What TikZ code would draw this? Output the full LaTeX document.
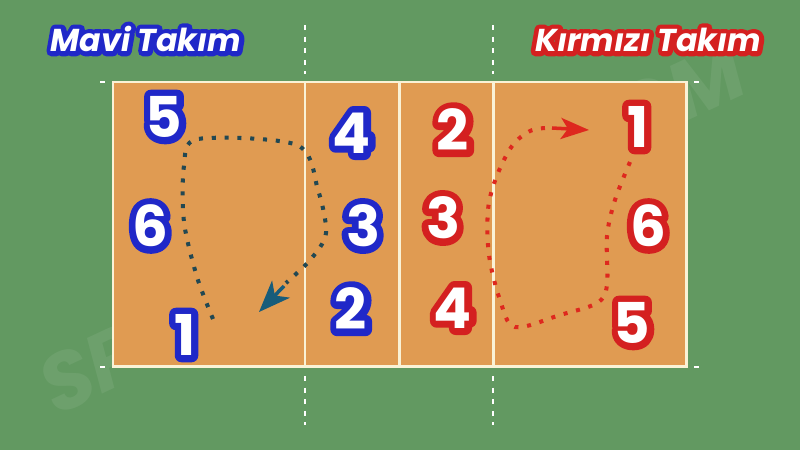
\documentclass[tikz,border=0pt]{standalone}
\usepackage{fontspec}
\setmainfont{Poppins}
\newfontfamily\numring[FakeBold=24]{Poppins Bold}
\newfontfamily\titlering[FakeBold=30]{Poppins Bold Italic}
\usetikzlibrary{arrows.meta}

\definecolor{grass}{RGB}{98,153,97}
\definecolor{courtorange}{RGB}{224,155,82}
\definecolor{linecream}{RGB}{250,242,214}
\definecolor{teamblue}{RGB}{32,40,200}
\definecolor{teamred}{RGB}{212,32,32}
\definecolor{pathteal}{RGB}{34,72,82}
\definecolor{headteal}{RGB}{24,92,122}
\definecolor{pathred}{RGB}{222,40,30}

% outlined number and title
\newcommand{\ringnum}[2]{\rlap{\color{#1}\numring #2}\bfseries #2}
\newcommand{\ringtitle}[2]{\rlap{\color{#1}\titlering #2}\bfseries\itshape #2}

\tikzset{
  court/.style={fill=courtorange, draw=linecream, line width=1.7pt},
  side line/.style={draw=white, line width=1.4pt, dash pattern=on 2.8pt off 3.8pt},
  corner tick/.style={draw=white, line width=1.6pt},
  title/.style={text=white, line join=round, font=\fontsize{18}{18}\selectfont},
  player/.style={text=white, inner sep=0pt, line join=round, font=\fontsize{32}{32}\selectfont},
  rotation/.style={line width=2.3pt, dash pattern=on 2.3pt off 5pt},
  watermark/.style={text=white, opacity=0.07, font=\fontsize{46}{46}\selectfont\bfseries\itshape}
}

\begin{document}
\begin{tikzpicture}[x=0.02cm, y=-0.02cm]
    % Field
    \useasboundingbox [fill=grass] (0, 0) rectangle (800, 450);

    % Watermark
    \node [watermark, rotate=25] (mark) at (392, 228) {SPORCULARA.COM};

    % Court
    \draw [court] (113, 82) rectangle (686, 366);
    \draw [draw=linecream, line width=1.7pt] (305, 82) -- (305, 366);
    \draw [draw=linecream, line width=1.7pt] (399, 82) -- (399, 366);
    \draw [draw=linecream, line width=1.7pt] (493, 82) -- (493, 366);

    % Attack line extensions
    \draw [side line] (305, 25) -- (305, 74);
    \draw [side line] (493, 25) -- (493, 74);
    \draw [side line] (305, 376) -- (305, 425);
    \draw [side line] (493, 376) -- (493, 425);

    % Corner marks
    \draw [corner tick] (100, 82) -- (105, 82);
    \draw [corner tick] (694, 82) -- (699, 82);
    \draw [corner tick] (100, 367) -- (105, 367);
    \draw [corner tick] (694, 367) -- (699, 367);

    % Team names
    \node [title] (bluetitle) at (146, 39) {\ringtitle{teamblue}{Mavi Takım}};
    \node [title] (redtitle) at (648, 40) {\ringtitle{teamred}{Kırmızı Takım}};

    % Blue rotation
    \draw [rotation, pathteal]
          plot [smooth, tension=0.5] coordinates
          {(213, 319) (197, 277) (184, 222) (184, 166) (198, 139)
           (297, 145) (318, 190) (326, 233) (311, 259) (286, 283)};
    \coordinate (bluetail) at (284, 286);
    \coordinate (bluetip) at (259, 312);
    \draw [headteal, line width=2pt, -{Stealth[length=18pt, width=14pt, inset=5pt]}]
          (bluetail) -- (bluetip);

    % Red rotation
    \draw [rotation, pathred]
          plot [smooth, tension=0.55] coordinates
          {(630, 162) (615, 200) (607, 236) (607, 285) (597, 303)
           (560, 315) (515, 327) (500, 300) (489, 255) (488, 210)
           (496, 178) (512, 146) (530, 131) (546, 128)};
    \coordinate (redtail) at (552, 128);
    \coordinate (redtip) at (589, 130);
    \draw [pathred, line width=2pt, -{Stealth[length=16pt, width=12pt, inset=4pt]}]
          (redtail) -- (redtip);

    % Blue team
    \node [player] (blue5) at (164, 117) {\ringnum{teamblue}{5}};
    \node [player] (blue4) at (352, 133) {\ringnum{teamblue}{4}};
    \node [player] (blue6) at (150, 226) {\ringnum{teamblue}{6}};
    \node [player] (blue3) at (363, 226) {\ringnum{teamblue}{3}};
    \node [player] (blue1) at (185, 335) {\ringnum{teamblue}{1}};
    \node [player] (blue2) at (351, 309) {\ringnum{teamblue}{2}};

    % Red team
    \node [player] (red2) at (453, 130) {\ringnum{teamred}{2}};
    \node [player] (red1) at (638, 127) {\ringnum{teamred}{1}};
    \node [player] (red3) at (443, 218) {\ringnum{teamred}{3}};
    \node [player] (red6) at (648, 226) {\ringnum{teamred}{6}};
    \node [player] (red4) at (453, 308) {\ringnum{teamred}{4}};
    \node [player] (red5) at (632, 323) {\ringnum{teamred}{5}};

  \end{tikzpicture}
\end{document}
